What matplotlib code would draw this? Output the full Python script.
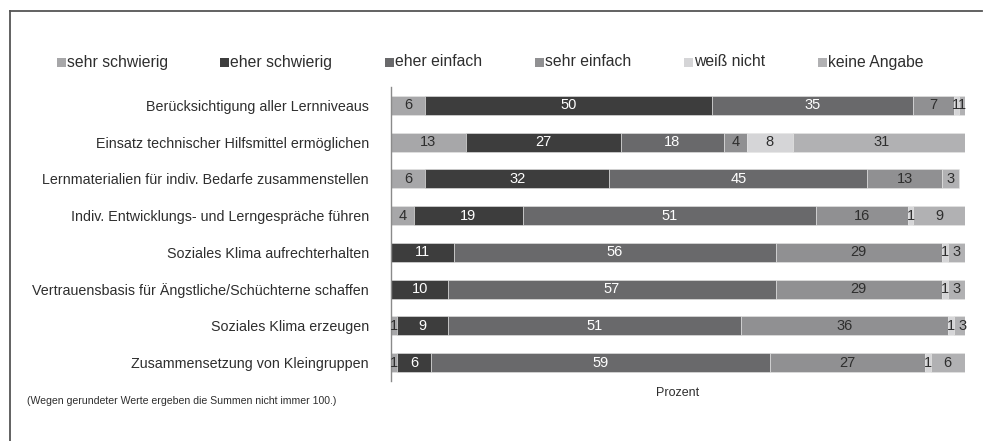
import matplotlib
matplotlib.use("Agg")
import matplotlib.pyplot as plt
from matplotlib.lines import Line2D
from matplotlib.patches import Rectangle

plt.rcParams['font.family'] = ['Liberation Sans', 'DejaVu Sans']

items = [
    "Berücksichtigung aller Lernniveaus",
    "Einsatz technischer Hilfsmittel ermöglichen",
    "Lernmaterialien für indiv. Bedarfe zusammenstellen",
    "Indiv. Entwicklungs- und Lerngespräche führen",
    "Soziales Klima aufrechterhalten",
    "Vertrauensbasis für Ängstliche/Schüchterne schaffen",
    "Soziales Klima erzeugen",
    "Zusammensetzung von Kleingruppen",
]
categories = ["sehr schwierig", "eher schwierig", "eher einfach",
              "sehr einfach", "weiß nicht", "keine Angabe"]

sehr_schwierig = [6, 13, 6, 4, 0, 0, 1, 1]
eher_schwierig = [50, 27, 32, 19, 11, 10, 9, 6]
eher_einfach = [35, 18, 45, 51, 56, 57, 51, 59]
sehr_einfach = [7, 4, 13, 16, 29, 29, 36, 27]
weiss_nicht = [1, 8, 0, 1, 1, 1, 1, 1]
keine_angabe = [1, 31, 3, 9, 3, 3, 3, 6]

series = [sehr_schwierig, eher_schwierig, eher_einfach,
          sehr_einfach, weiss_nicht, keine_angabe]
colors = ["#a7a7a9", "#3d3d3d", "#69696b", "#909092", "#d5d5d7", "#b1b1b3"]
text_colors = ["#2e2e2e", "white", "white", "#2e2e2e", "#2e2e2e", "#2e2e2e"]

W, H = 983, 441
fig = plt.figure(figsize=(W / 100, H / 100), dpi=100)
ax = fig.add_axes([391 / W, 1 - 381 / H, (965 - 391) / W, (381 - 87) / H])

ypos = list(range(len(items)))
left = [0] * len(items)
for vals, col, tcol, name in zip(series, colors, text_colors, categories):
    ax.barh(ypos, vals, left=left, height=0.52, color=col,
            edgecolor="#e6e6e6", linewidth=0.4, label=name)
    for y, v, l in zip(ypos, vals, left):
        if v > 0:
            ax.text(l + v / 2, y, str(v), ha="center", va="center",
                    fontsize=10.5, color=tcol, clip_on=False)
    left = [a + b for a, b in zip(left, vals)]

ax.set_xlim(0, 100)
ax.set_ylim(len(items) - 0.5, -0.5)
ax.set_yticks(ypos)
ax.set_yticklabels(items, fontsize=10.3, color="#2e2e2e")
ax.tick_params(axis="y", length=0, pad=16)
ax.set_xticks([])
for s in ["top", "right", "bottom"]:
    ax.spines[s].set_visible(False)
ax.spines["left"].set_color("#8a8a8a")
ax.spines["left"].set_linewidth(1.0)
ax.set_xlabel("Prozent", fontsize=9, color="#2e2e2e", labelpad=4)

# legend row: small square followed by the category name, on a common baseline
legend_x = [57, 220, 385, 535, 684, 818]
baseline = 66.5
sq = 8.5
for x, c, name in zip(legend_x, colors, categories):
    fig.add_artist(Rectangle((x / W, 1 - baseline / H), sq / W, sq / H,
                             transform=fig.transFigure, facecolor=c,
                             edgecolor="none"))
    fig.text((x + sq + 1.5) / W, 1 - baseline / H, name, fontsize=11.3,
             color="#2e2e2e", ha="left", va="baseline")

fig.text(27 / W, 1 - 401 / H,
         "(Wegen gerundeter Werte ergeben die Summen nicht immer 100.)",
         fontsize=7.6, color="#2e2e2e", ha="left", va="center")

# frame lines along the top and left edge
fig.add_artist(Line2D([9.5 / W, 982 / W], [1 - 10.5 / H, 1 - 10.5 / H],
                      transform=fig.transFigure, color="#555555", linewidth=1.3))
fig.add_artist(Line2D([9.5 / W, 9.5 / W], [1 - 10.5 / H, 0],
                      transform=fig.transFigure, color="#555555", linewidth=1.3))

fig.savefig("out.png", dpi=100)
